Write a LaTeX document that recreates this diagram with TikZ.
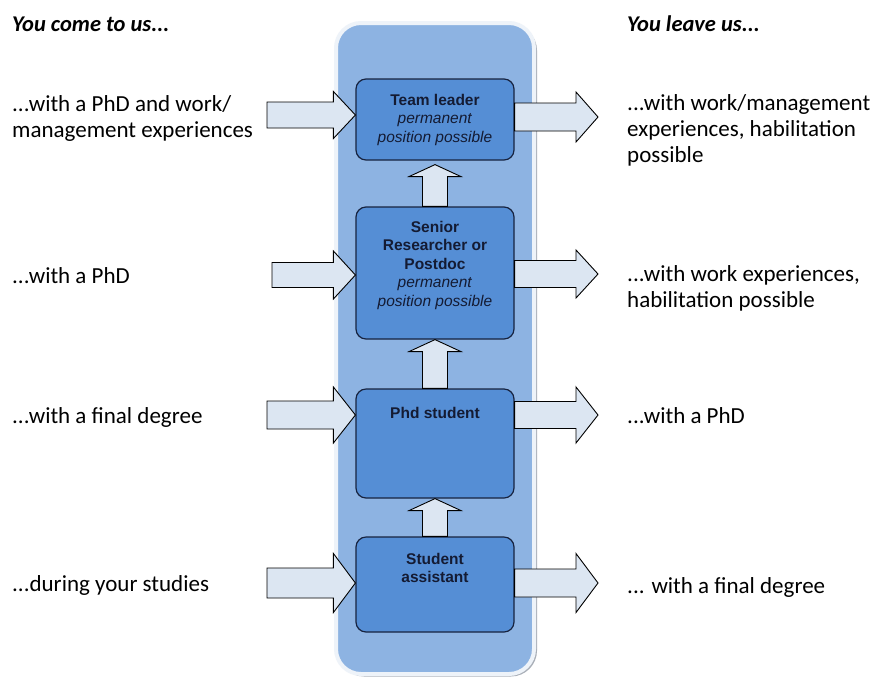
\documentclass[tikz,border=0pt]{standalone}
\usepackage{fontspec}
\setmainfont{Carlito}
\newfontfamily\arialf{Liberation Sans}
\usetikzlibrary{calc}
\definecolor{contfill}{HTML}{8DB3E2}
\definecolor{contedge}{HTML}{EEF3F9}
\definecolor{contshadow}{HTML}{A9AFB8}
\definecolor{boxfill}{HTML}{558ED5}
\definecolor{boxline}{HTML}{17233F}
\definecolor{arrfill}{HTML}{DCE6F2}
\definecolor{boxtext}{HTML}{141B33}
\newcommand{\harrowfill}[4]{% #1 tail, #2 tip, #3 shaft half width, #4 head half width
  \draw[blockarrow] let \p1=#1, \p2=#2 in
    (\p2) -- (\x2-22pt,\y2+#4pt) -- (\x2-22pt,\y2+#3pt) -- (\x1,\y2+#3pt)
    -- (\x1,\y2-#3pt) -- (\x2-22pt,\y2-#3pt) -- (\x2-22pt,\y2-#4pt) -- cycle;}
\newcommand{\varrowfill}[2]{% #1 tail, #2 tip
  \draw[blockarrow] let \p1=#1, \p2=#2 in
    (\p2) -- (\x2+26pt,\y2-12pt) -- (\x2+12.5pt,\y2-12pt) -- (\x2+12.5pt,\y1)
    -- (\x2-12.5pt,\y1) -- (\x2-12.5pt,\y2-12pt) -- (\x2-26pt,\y2-12pt) -- cycle;}
\begin{document}
\begin{tikzpicture}[x=1pt,y=-1pt,
  containershadow/.style={fill=contshadow, rounded corners=26pt, minimum width=199pt, minimum height=652pt, inner sep=0},
  container/.style={draw=contedge, line width=4pt, fill=contfill, rounded corners=25pt, minimum width=198pt, minimum height=651pt, inner sep=0},
  stage/.style={draw=boxline, line width=1.2pt, fill=boxfill, rounded corners=10pt, minimum width=158pt, inner sep=0},
  stagetext/.style={font=\arialf\fontsize{15.5}{18.6}\selectfont, text=boxtext, align=center, anchor=base, inner sep=0},
  blockarrow/.style={draw=black, line width=0.9pt, fill=arrfill, line join=miter},
  sidetext/.style={font=\fontsize{23}{25.8}\selectfont, align=left, anchor=base west, inner sep=0},
  headtext/.style={font=\fontsize{22.5}{24}\selectfont\bfseries\itshape, anchor=base west, inner sep=0}]
\useasboundingbox (0,0) rectangle (877,681);
\fill[white] (0,0) rectangle (877,681);

% container
\node[containershadow] (shadow) at (437.5,350.5) {};
\node[container] (cont) at (435,348.5) {};

% stages
\node[stage, minimum height=81pt]  (tl)  at (435,119.5) {};
\node[stage, minimum height=132pt] (sen) at (435,273) {};
\node[stage, minimum height=109pt] (phd) at (435,443.5) {};
\node[stage, minimum height=95pt]  (stu) at (435,584.5) {};

% (base anchor of a multi-line node = baseline of its last line)
\node[stagetext] (tltext) at (435,142.2) {\textbf{Team leader}\\\textit{permanent}\\\textit{position possible}};
\node[stagetext] (sentext) at (435,306.4) {\textbf{Senior}\\\textbf{Researcher or}\\\textbf{Postdoc}\\\textit{permanent}\\\textit{position possible}};
\node[stagetext] (phdtext) at (435,418) {\textbf{Phd student}};
\node[stagetext] (stutext) at (435,582.6) {\textbf{Student}\\\textbf{assistant}};

% up arrows
\varrowfill{(sen.north)}{($(tl.south)+(0,4)$)}
\varrowfill{(phd.north)}{(sen.south)}
\varrowfill{(stu.north)}{(phd.south)}

% free ends
\coordinate (inA) at (267,115);
\coordinate (inB) at (272,275);
\coordinate (inC) at (267,415);
\coordinate (inD) at (267,583);
\coordinate (outA) at (598,117);
\coordinate (outB) at (598,274);
\coordinate (outC) at (598,415);
\coordinate (outD) at (598,583);

% incoming arrows
\harrowfill{(inA)}{(tl.west |- inA)}{13}{23.5}
\harrowfill{(inB)}{(sen.west |- inB)}{12.5}{24}
\harrowfill{(inC)}{(phd.west |- inC)}{14}{28}
\harrowfill{(inD)}{(stu.west |- inD)}{15}{29.5}

% outgoing arrows
\harrowfill{(tl.east |- outA)}{(outA)}{14}{25}
\harrowfill{(sen.east |- outB)}{(outB)}{13.5}{24}
\harrowfill{(phd.east |- outC)}{(outC)}{13.5}{28}
\harrowfill{(stu.east |- outD)}{(outD)}{14}{29.5}

% side texts
\node[headtext] (inhead) at (12,31) {You come to us...};
\node[sidetext] (in1) at (12,137.5) {...with a PhD and work/\\management experiences};
\node[sidetext] (in2) at (12,283) {...with a PhD};
\node[sidetext] (in3) at (12,423) {...with a final degree};
\node[sidetext] (in4) at (12,591) {...during your studies};

\node[headtext] (outhead) at (627,31) {You leave us...};
\node[sidetext] (out1) at (627,162) {...with work/management\\experiences, habilitation\\possible};
\node[sidetext] (out2) at (627,307) {...with work experiences,\\habilitation possible};
\node[sidetext] (out3) at (627,423) {...with a PhD};
\node[sidetext] (out4) at (627,593) {... with a final degree};
\end{tikzpicture}
\end{document}
